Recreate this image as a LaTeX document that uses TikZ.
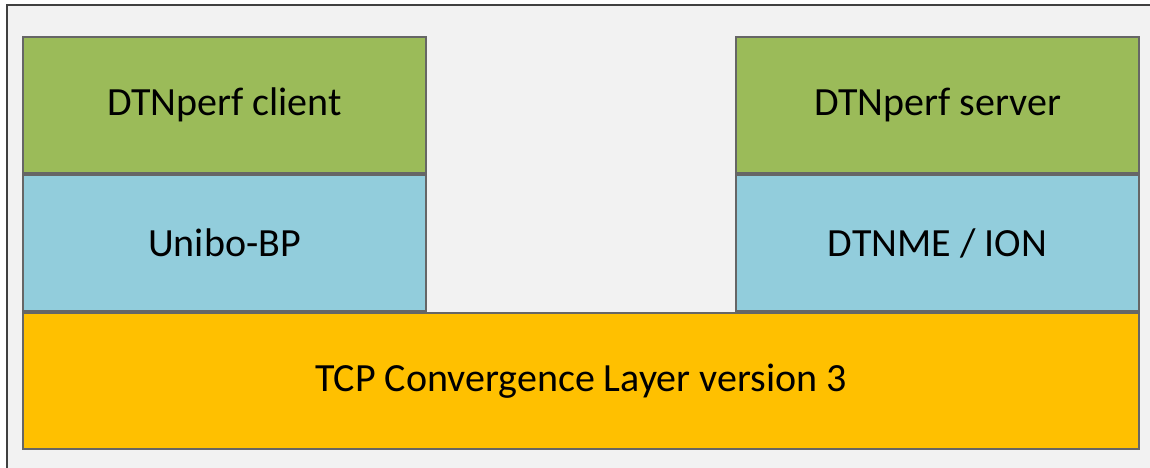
\documentclass[tikz,border=0pt]{standalone}
\usepackage{fontspec}
\setmainfont{Carlito}
\definecolor{appgreen}{HTML}{9BBB59}
\definecolor{bpblue}{HTML}{92CDDC}
\definecolor{clorange}{HTML}{FFC000}
\definecolor{panelgray}{HTML}{F2F2F2}

\begin{document}
\begin{tikzpicture}[x=1pt,y=-1pt]
\tikzstyle{APP} = [rectangle, minimum width=403pt, minimum height=136pt, text centered, draw=black!60, line width=1.2pt, fill=appgreen, font=\fontsize{40}{48}\selectfont]
\tikzstyle{BP} = [rectangle, minimum width=403pt, minimum height=136pt, text centered, draw=black!60, line width=1.2pt, fill=bpblue, font=\fontsize{40}{48}\selectfont]
\tikzstyle{CL} = [rectangle, minimum width=1116pt, minimum height=136pt, text centered, draw=black!60, line width=1.2pt, fill=clorange, font=\fontsize{40}{48}\selectfont]
\tikzstyle{frame} = [draw=black!75, line width=1.5pt]

    % page and panel
    \useasboundingbox (0, 0) rectangle (1150, 468);
    \fill [panelgray] (7, 5) rectangle (1150, 468);
    \coordinate (corner) at (7, 5);
    \draw [frame] (7, 468) -- (corner) -- (1150, 5);

    % client side
    \node (client) at (224.5, 105) [APP] {DTNperf client};
    \node (unibo) at (224.5, 243) [BP] {Unibo-BP};

    % server side
    \node (server) at (937.5, 105) [APP] {DTNperf server};
    \node (dtnme) at (937.5, 243) [BP] {DTNME / ION};

    % shared layer
    \node (tcpcl) at (581, 381) [CL] {TCP Convergence Layer version 3};
\end{tikzpicture}
\end{document}
